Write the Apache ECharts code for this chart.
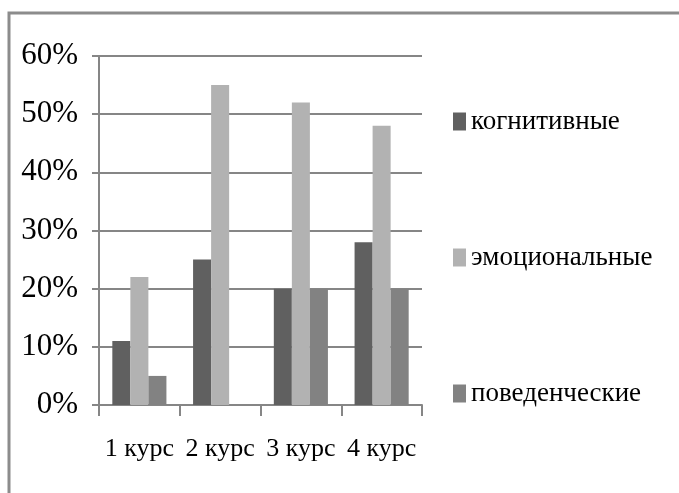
<!DOCTYPE html>
<html>
<head>
<meta charset="utf-8">
<script src="https://cdn.jsdelivr.net/npm/echarts@6/dist/echarts.min.js"></script>
<style>
  html, body { margin: 0; padding: 0; background: #fff; }
  #chart { width: 679px; height: 493px; }
</style>
</head>
<body>
<div id="chart"></div>
<script>
var categories = ["1 курс", "2 курс", "3 курс", "4 курс"];
var seriesNames = ["когнитивные", "эмоциональные", "поведенческие"];
var cognitive = [0.11, 0.25, 0.20, 0.28];
var emotional = [0.22, 0.55, 0.52, 0.48];
var behavioral = [0.05, 0, 0.20, 0.20];
var yTicks = [0, 0.1, 0.2, 0.3, 0.4, 0.5, 0.6];

var font = "'Liberation Serif', 'Times New Roman', serif";
var lineColor = "#868686";

var chart = echarts.init(document.getElementById("chart"));
chart.setOption({
    animation: false,
    color: ["#606060", "#b2b2b2", "#828282"],
    textStyle: { fontFamily: font, color: "#000" },
    graphic: [{
        type: "rect",
        shape: { x: 9, y: 13, width: 720, height: 520 },
        style: { fill: null, stroke: "#8c8c8c", lineWidth: 3 },
        silent: true
    }],
    legend: {
        orient: "vertical",
        left: 453,
        top: 108,
        padding: 0,
        itemWidth: 13,
        itemHeight: 18,
        itemGap: 109,
        icon: "rect",
        data: seriesNames,
        textStyle: { fontFamily: font, fontSize: 27, color: "#000" }
    },
    grid: { left: 99, right: 257, top: 56, bottom: 88 },
    xAxis: {
        type: "category",
        data: categories,
        axisLine: { lineStyle: { color: lineColor, width: 2 } },
        axisTick: { show: true, length: 11, lineStyle: { color: lineColor, width: 2 } },
        axisLabel: { fontFamily: font, fontSize: 26, color: "#000", margin: 31, interval: 0 }
    },
    yAxis: {
        type: "value",
        min: yTicks[0],
        max: yTicks[yTicks.length - 1],
        interval: 0.1,
        axisLine: { show: true, lineStyle: { color: lineColor, width: 2 } },
        axisTick: { show: true, length: 7, lineStyle: { color: lineColor, width: 2 } },
        splitLine: { lineStyle: { color: lineColor, width: 2 } },
        axisLabel: {
            fontFamily: font, fontSize: 31, color: "#000", margin: 21,
            formatter: function (v) { return Math.round(v * 100) + "%"; }
        }
    },
    series: [{
        name: seriesNames[0], type: "bar", data: cognitive,
        barGap: "0%", barCategoryGap: "33%"
    }, {
        name: seriesNames[1], type: "bar", data: emotional,
        barGap: "0%", barCategoryGap: "33%"
    }, {
        name: seriesNames[2], type: "bar", data: behavioral,
        barGap: "0%", barCategoryGap: "33%"
    }]
});
</script>
</body>
</html>
